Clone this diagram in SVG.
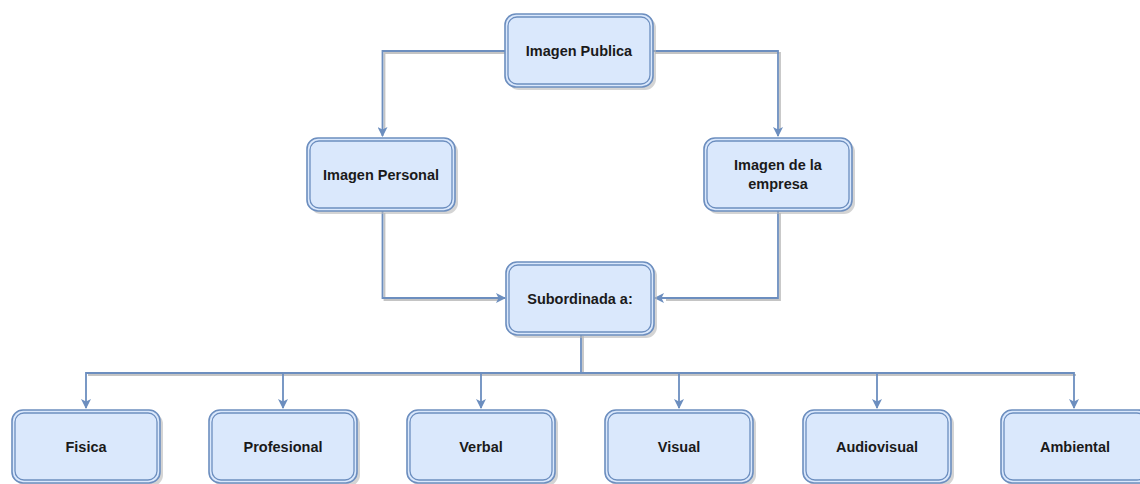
<svg xmlns="http://www.w3.org/2000/svg" width="1140" height="484" viewBox="0 0 1140 484">
<defs>
<marker id="arr" markerWidth="10" markerHeight="10" refX="9" refY="5" orient="auto" markerUnits="userSpaceOnUse">
<path d="M0,0 L10,5 L0,10 L2.5,5 Z" fill="#6c8ebf"/>
</marker>
</defs>
<style>
.sh{fill:#b8b8b8;opacity:0.6}
.o{fill:#dae8fc;stroke:#6c8ebf;stroke-width:1.6}
.i{fill:none;stroke:#6c8ebf;stroke-width:1.3}
.t{font-family:"Liberation Sans",Arial,sans-serif;font-weight:bold;font-size:14.5px;fill:#1a1a1a;text-anchor:middle;dominant-baseline:central}
.c{fill:none;stroke:#6c8ebf;stroke-width:1.8}
.cs{fill:none;stroke:#c4c4c4;stroke-width:1.8}
</style>
<rect width="1140" height="484" fill="#ffffff"/>
<g id="connectors">
<g transform="translate(2,2)">
<path class="cs" d="M505,51 H382.5 V128"/>
<path class="cs" d="M653,51 H778 V128"/>
<path class="cs" d="M382.5,211 V298 H496"/>
<path class="cs" d="M778,211 V298 H664"/>
<path class="cs" d="M581,334 V373" stroke="#555"/>
<path class="cs" d="M86,373 H1074"/>
</g>
<path class="c" d="M505,51 H382.5 V136" marker-end="url(#arr)"/>
<path class="c" d="M653,51 H778 V136" marker-end="url(#arr)"/>
<path class="c" d="M382.5,211 V298 H505" marker-end="url(#arr)"/>
<path class="c" d="M778,211 V298 H655" marker-end="url(#arr)"/>
<path class="c" d="M581,334 V373 H86 V408" marker-end="url(#arr)"/>
<path class="c" d="M581,373 H283 V408" marker-end="url(#arr)"/>
<path class="c" d="M581,373 H481 V408" marker-end="url(#arr)"/>
<path class="c" d="M581,373 H679 V408" marker-end="url(#arr)"/>
<path class="c" d="M581,373 H877 V408" marker-end="url(#arr)"/>
<path class="c" d="M581,373 H1074 V408" marker-end="url(#arr)"/>
</g>
<g id="imagen-publica">
<rect class="sh" x="508" y="17" width="148" height="73" rx="11"/>
<rect class="o" x="505" y="14" width="148" height="73" rx="11"/>
<rect class="i" x="508" y="17" width="142" height="67" rx="9"/>
<text class="t" x="579" y="50.5">Imagen Publica</text>
</g>
<g id="imagen-personal">
<rect class="sh" x="310" y="141" width="148" height="73" rx="11"/>
<rect class="o" x="307" y="138" width="148" height="73" rx="11"/>
<rect class="i" x="310" y="141" width="142" height="67" rx="9"/>
<text class="t" x="381" y="174.5">Imagen Personal</text>
</g>
<g id="imagen-empresa">
<rect class="sh" x="707" y="141" width="148" height="73" rx="11"/>
<rect class="o" x="704" y="138" width="148" height="73" rx="11"/>
<rect class="i" x="707" y="141" width="142" height="67" rx="9"/>
<text class="t" x="778" y="165">Imagen de la</text>
<text class="t" x="778" y="184">empresa</text>
</g>
<g id="subordinada">
<rect class="sh" x="509" y="265" width="148" height="73" rx="11"/>
<rect class="o" x="506" y="262" width="148" height="73" rx="11"/>
<rect class="i" x="509" y="265" width="142" height="67" rx="9"/>
<text class="t" x="580" y="298.5">Subordinada a:</text>
</g>
<g id="fisica">
<rect class="sh" x="15" y="413" width="148" height="73" rx="11"/>
<rect class="o" x="12" y="410" width="148" height="73" rx="11"/>
<rect class="i" x="15" y="413" width="142" height="67" rx="9"/>
<text class="t" x="86" y="447">Fisica</text>
</g>
<g id="profesional">
<rect class="sh" x="212" y="413" width="148" height="73" rx="11"/>
<rect class="o" x="209" y="410" width="148" height="73" rx="11"/>
<rect class="i" x="212" y="413" width="142" height="67" rx="9"/>
<text class="t" x="283" y="447">Profesional</text>
</g>
<g id="verbal">
<rect class="sh" x="410" y="413" width="148" height="73" rx="11"/>
<rect class="o" x="407" y="410" width="148" height="73" rx="11"/>
<rect class="i" x="410" y="413" width="142" height="67" rx="9"/>
<text class="t" x="481" y="447">Verbal</text>
</g>
<g id="visual">
<rect class="sh" x="608" y="413" width="148" height="73" rx="11"/>
<rect class="o" x="605" y="410" width="148" height="73" rx="11"/>
<rect class="i" x="608" y="413" width="142" height="67" rx="9"/>
<text class="t" x="679" y="447">Visual</text>
</g>
<g id="audiovisual">
<rect class="sh" x="806" y="413" width="148" height="73" rx="11"/>
<rect class="o" x="803" y="410" width="148" height="73" rx="11"/>
<rect class="i" x="806" y="413" width="142" height="67" rx="9"/>
<text class="t" x="877" y="447">Audiovisual</text>
</g>
<g id="ambiental">
<rect class="sh" x="1004" y="413" width="148" height="73" rx="11"/>
<rect class="o" x="1001" y="410" width="148" height="73" rx="11"/>
<rect class="i" x="1004" y="413" width="142" height="67" rx="9"/>
<text class="t" x="1075" y="447">Ambiental</text>
</g>
</svg>
